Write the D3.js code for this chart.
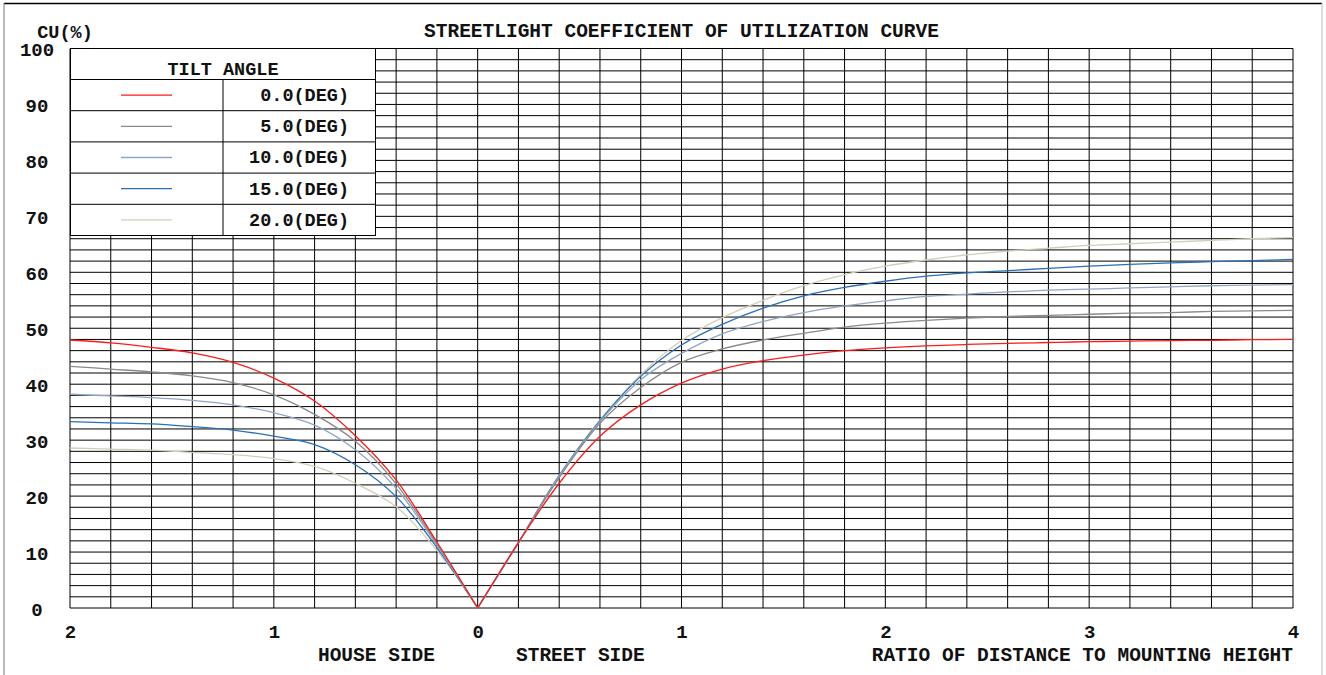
<!DOCTYPE html>
<html>
<head>
<meta charset="utf-8">
<script src="https://cdn.jsdelivr.net/npm/d3@7"></script>
<style>
  body { margin: 0; background: #fff; }
  svg text { font-family: "Liberation Mono", "Courier New", monospace; font-weight: bold; fill: #111; }
</style>
</head>
<body>
<svg width="1326" height="675"></svg>
<script>
var svg = d3.select("svg");

// ratio of distance to mounting height
var houseRatio = [0, 0.2, 0.4, 0.6, 0.8, 1.0, 1.2, 1.4, 1.6, 1.8, 2.0];
var streetRatio = [0, 0.2, 0.4, 0.6, 0.8, 1.0, 1.2, 1.4, 1.6, 1.8, 2.0,
  2.2, 2.4, 2.6, 2.8, 3.0, 3.2, 3.4, 3.6, 3.8, 4.0];

var tiltNames = ["0.0(DEG)", "5.0(DEG)", "10.0(DEG)", "15.0(DEG)", "20.0(DEG)"];
var tiltColors = ["#ff1a1a", "#8a8a8a", "#8ea6c6", "#2a6fb8", "#d2cfb8"];

// CU (%) on house side
var house0 = [0, 11.8, 22.9, 30.8, 37.0, 41.1, 43.9, 45.6, 46.6, 47.4, 47.9];
var house5 = [0, 11.5, 22.2, 29.8, 34.6, 38.1, 40.3, 41.5, 42.2, 42.7, 43.2];
var house10 = [0, 11.2, 21.4, 28.3, 32.7, 34.9, 36.3, 37.1, 37.6, 37.9, 38.2];
var house15 = [0, 10.8, 19.9, 25.6, 29.2, 30.7, 31.8, 32.4, 32.9, 33.1, 33.3];
var house20 = [0, 10.3, 18.1, 22.3, 25.3, 26.7, 27.4, 27.8, 28.2, 28.4, 28.6];

// CU (%) on street side
var street0 = [0, 11.7, 22.3, 30.7, 36.3, 40.2, 42.7, 44.2, 45.2, 46.0, 46.5,
  46.85, 47.1, 47.3, 47.45, 47.6, 47.7, 47.8, 47.85, 47.95, 48.0];
var street5 = [0, 11.7, 23.3, 33.0, 39.4, 43.9, 46.3, 47.9, 49.1, 50.2, 50.9,
  51.4, 51.8, 52.1, 52.3, 52.5, 52.7, 52.8, 53.0, 53.1, 53.2];
var street10 = [0, 11.7, 23.6, 33.3, 40.8, 45.5, 49.0, 51.2, 52.8, 54.0, 54.9,
  55.7, 56.1, 56.5, 56.8, 57.0, 57.2, 57.4, 57.6, 57.7, 57.8];
var street15 = [0, 11.7, 23.7, 33.5, 41.4, 47.0, 50.7, 53.6, 55.8, 57.3, 58.4,
  59.3, 59.9, 60.3, 60.7, 61.1, 61.4, 61.7, 61.9, 62.1, 62.3];
var street20 = [0, 11.7, 23.7, 33.6, 41.7, 47.8, 51.9, 55.0, 57.6, 59.6, 61.1,
  62.2, 63.1, 63.8, 64.3, 64.8, 65.1, 65.4, 65.7, 66.0, 66.2];

var houseSeries = [house0, house5, house10, house15, house20];
var streetSeries = [street0, street5, street10, street15, street20];

var xTicks = [-2, -1, 0, 1, 2, 3, 4];
var yTicks = [0, 10, 20, 30, 40, 50, 60, 70, 80, 90, 100];

var x = d3.scaleLinear().domain([-2, 4]).range([70, 1293]);
var y = d3.scaleLinear().domain([0, 100]).range([608, 48.5]);

// outer frame
svg.append("line").attr("x1", 4).attr("x2", 1322).attr("y1", 3.5).attr("y2", 3.5)
  .attr("stroke", "#000").attr("stroke-width", 1.5);
svg.append("line").attr("x1", 4).attr("x2", 4).attr("y1", 3).attr("y2", 675)
  .attr("stroke", "#777");
svg.append("line").attr("x1", 1322).attr("x2", 1322).attr("y1", 3).attr("y2", 675)
  .attr("stroke", "#bbb");

// grid
var grid = svg.append("g");
grid.selectAll(null)
  .data(d3.range(-2, 4.001, 0.2))
  .enter()
  .append("line")
  .attr("x1", function(d) { return x(d) }).attr("x2", function(d) { return x(d) })
  .attr("y1", y(0)).attr("y2", y(100))
  .attr("stroke", "#000");
grid.selectAll(null)
  .data(d3.range(0, 100.001, 2))
  .enter()
  .append("line")
  .attr("y1", function(d) { return y(d) }).attr("y2", function(d) { return y(d) })
  .attr("x1", x(-2)).attr("x2", x(4))
  .attr("stroke", "#000");

// curves (house side drawn leftwards from 0)
var houseLine = d3.line()
  .x(function(d, i) { return x(-houseRatio[i]) })
  .y(function(d) { return y(d) })
  .curve(d3.curveCatmullRom.alpha(0.5));
var streetLine = d3.line()
  .x(function(d, i) { return x(streetRatio[i]) })
  .y(function(d) { return y(d) })
  .curve(d3.curveCatmullRom.alpha(0.5));

// draw from 20 deg down so red sits on top
for (var k = 4; k >= 0; k--) {
  svg.append("path").datum(houseSeries[k])
    .attr("d", houseLine).attr("fill", "none")
    .attr("stroke", tiltColors[k]).attr("stroke-width", 1.3);
  svg.append("path").datum(streetSeries[k])
    .attr("d", streetLine).attr("fill", "none")
    .attr("stroke", tiltColors[k]).attr("stroke-width", 1.3);
}

// axes
var xAxis = svg.append("g")
  .attr("transform", "translate(0," + y(0) + ")")
  .call(d3.axisBottom(x).tickValues(xTicks).tickSize(0).tickPadding(17)
    .tickFormat(function(d) { return Math.abs(d) }));
xAxis.select(".domain").remove();
xAxis.selectAll("text")
  .style("font-family", "Liberation Mono").style("font-weight", "bold")
  .style("font-size", "19px").attr("fill", "#111");

var yAxis = svg.append("g")
  .attr("transform", "translate(" + x(-2) + ",0)")
  .call(d3.axisLeft(y).tickValues(yTicks).tickSize(0));
yAxis.select(".domain").remove();
yAxis.selectAll("text")
  .attr("x", -33).attr("dy", "0.38em")
  .attr("text-anchor", "middle")
  .style("font-family", "Liberation Mono").style("font-weight", "bold")
  .style("font-size", "19px").attr("fill", "#111");

// titles
svg.append("text")
  .attr("x", (x(-2) + x(4)) / 2).attr("y", 37)
  .attr("text-anchor", "middle").style("font-size", "19.5px")
  .text("STREETLIGHT COEFFICIENT OF UTILIZATION CURVE");
svg.append("text")
  .attr("x", 65).attr("y", 38)
  .attr("text-anchor", "middle").style("font-size", "18.5px")
  .text("CU(%)");
svg.append("text")
  .attr("x", 435).attr("y", 661)
  .attr("text-anchor", "end").style("font-size", "19.5px")
  .text("HOUSE SIDE");
svg.append("text")
  .attr("x", 516).attr("y", 661)
  .attr("text-anchor", "start").style("font-size", "19.5px")
  .text("STREET SIDE");
svg.append("text")
  .attr("x", x(4)).attr("y", 661)
  .attr("text-anchor", "end").style("font-size", "19.5px")
  .text("RATIO OF DISTANCE TO MOUNTING HEIGHT");

// legend
var lg = svg.append("g");
var rowH = 31.2;
lg.append("rect")
  .attr("x", 70.5).attr("y", 48.5).attr("width", 305).attr("height", 31 + rowH * 5)
  .attr("fill", "#fff").attr("stroke", "#000");
lg.append("text")
  .attr("x", 223).attr("y", 75)
  .attr("text-anchor", "middle").style("font-size", "18.5px")
  .text("TILT ANGLE");
lg.append("line")
  .attr("x1", 223).attr("x2", 223).attr("y1", 79.5).attr("y2", 48.5 + 31 + rowH * 5)
  .attr("stroke", "#000");

var rows = lg.selectAll(null)
  .data(tiltNames)
  .enter()
  .append("g")
  .attr("transform", function(d, i) { return "translate(0," + (79.5 + i * rowH) + ")" });
rows.append("line")
  .attr("x1", 70.5).attr("x2", 375.5).attr("y1", 0).attr("y2", 0)
  .attr("stroke", "#000");
rows.append("line")
  .attr("x1", 121).attr("x2", 172).attr("y1", rowH / 2).attr("y2", rowH / 2)
  .attr("stroke", function(d, i) { return tiltColors[i] }).attr("stroke-width", 1.3);
rows.append("text")
  .attr("x", 349).attr("y", rowH / 2 + 6)
  .attr("text-anchor", "end").style("font-size", "18.5px")
  .text(function(d) { return d });
</script>
</body>
</html>
